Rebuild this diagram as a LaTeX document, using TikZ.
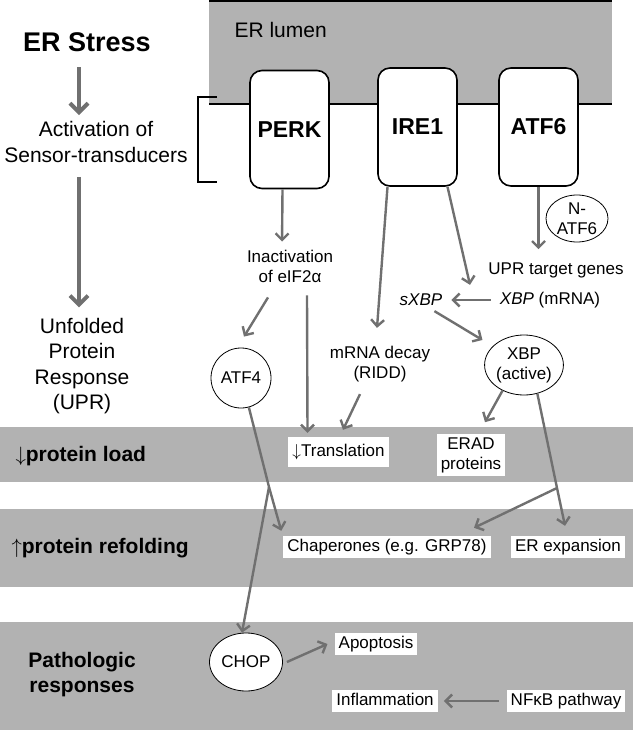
\documentclass[tikz,border=0pt]{standalone}
\usepackage{fontspec}
\setmainfont{Liberation Sans}
\usepackage{tikz}
\usetikzlibrary{arrows.meta,positioning,shapes.geometric}
\definecolor{bandgray}{RGB}{178,178,178}
\definecolor{arrowgray}{RGB}{112,112,112}

\begin{document}
\begin{tikzpicture}[x=1pt,y=-1pt,
	sensor/.style={draw=black,line width=1.6pt,rounded corners=12pt,fill=white,minimum width=79pt,minimum height=118pt,font=\fontsize{23}{26}\selectfont\bfseries},
	txt/.style={font=\fontsize{17}{20}\selectfont,align=center,inner sep=2pt},
	whitebox/.style={txt,fill=white,inner xsep=4pt,inner ysep=3pt},
	tag/.style={whitebox,text height=12.5pt,text depth=3.5pt},
	blob/.style={ellipse,draw=black,line width=0.8pt,txt,inner sep=0pt},
	side/.style={font=\fontsize{21}{25.5}\selectfont,align=center},
	bandlabel/.style={font=\fontsize{21}{25}\selectfont\bfseries,align=center},
	arr/.style={draw=arrowgray,line width=2.4pt,-{Straight Barb[length=6.5pt,width=13pt]}},
	bigarr/.style={draw=arrowgray,line width=4pt,-{Straight Barb[length=9pt,width=18pt]}}]
	\useasboundingbox (0,0) rectangle (633,730);
	% bands and membrane
	\fill[bandgray] (0,427) rectangle (633,482);
	\fill[bandgray] (0,509) rectangle (633,587);
	\fill[bandgray] (0,622) rectangle (633,730);
	\fill[bandgray] (209,0) rectangle (612,104);
	\draw[line width=2pt] (209,1) -- (612,1);
	\draw[line width=2pt] (209,104) -- (612,104);
	\draw[line width=2pt] (217,97) -- (198,97) -- (198,182) -- (217,182);
	\node[side,anchor=west] (lumen) at (231,30) {ER lumen};

	% left column
	\node[font=\fontsize{27}{30}\selectfont\bfseries] (stress) at (87,42) {ER Stress};
	\node[side] (activ) at (96,142) {Activation of\\Sensor-transducers};
	\node[side] (upr) at (82,366) {Unfolded\\Protein\\Response\\(UPR)};
	\draw[bigarr, shorten <=12pt, shorten >=3pt] ([xshift=-8]stress.south) -- ([xshift=-17]activ.north);
	\draw[bigarr, shorten <=11pt, shorten >=7pt] ([xshift=-17]activ.south) -- ([xshift=-3]upr.north);

	% sensors
	\node[sensor] (perk) at (289.5,129.5) {PERK};
	\node[sensor] (ire1) at (417.5,127) {IRE1};
	\node[sensor] (atf6) at (538.5,127) {ATF6};

	% band labels
	\node[bandlabel,anchor=west] (load) at (12,456) {$\downarrow$protein load};
	\node[bandlabel,anchor=west] (refold) at (8,548) {$\uparrow$protein refolding};
	\node[bandlabel] (patho) at (82,675) {Pathologic\\responses};

	% downstream nodes
	\node[txt] (inact) at (290,266) {Inactivation\\of eIF2α};
	\node[blob,minimum width=60pt,minimum height=60pt] (atf4) at (241,378) {ATF4};
	\node[txt] (ridd) at (380,364) {mRNA decay\\(RIDD)};
	\node[txt] (sxbp) at (421,300) {\itshape sXBP};
	\node[txt] (xbpm) at (550,300) {\textit{XBP} (mRNA)};
	\node[txt] (target) at (556,270) {UPR target genes};
	\node[blob,minimum width=62pt,minimum height=47pt] (natf6) at (577,218.5) {N-\\ATF6};
	\node[blob,minimum width=76pt,minimum height=60pt] (xbpa) at (524,365) {XBP\\(active)};
	\node[whitebox,minimum height=30pt] (transl) at (338.5,452) {$\downarrow$Translation};
	\node[whitebox] (erad) at (471,455) {ERAD\\proteins};
	\node[tag] (chap) at (387,547) {Chaperones (e.g. GRP78)};
	\node[tag] (erexp) at (568,547) {ER expansion};
	\node[blob,fill=white,minimum width=73pt,minimum height=58pt] (chop) at (246,662) {CHOP};
	\node[tag] (apop) at (376,644) {Apoptosis};
	\node[tag] (infl) at (385,701) {Inflammation};
	\node[tag] (nfkb) at (566,701) {NFκB pathway};
	\coordinate (xsplit) at (557,488);
	\coordinate (asplit) at (269,487);

	% connectors
	\draw[arr, shorten >=6pt] ([xshift=-7]perk.south) -- ([xshift=-8]inact.north);
	\draw[arr] ([xshift=-22,yshift=-13]inact.south) -- ([xshift=3,yshift=11]atf4.north);
	\draw[arr] ([xshift=17,yshift=-11]inact.south) -- ([xshift=-31,yshift=4]transl.north);
	\draw[arr] ([xshift=-30]ire1.south) -- ([xshift=-3,yshift=16]ridd.north);
	\draw[arr] ([xshift=30]ire1.south) -- ([xshift=49,yshift=7]sxbp.north);
	\draw[arr] (atf6.south) -- ([xshift=-17.5,yshift=11]target.north);
	\draw[arr, shorten <=7pt, shorten >=7pt] (xbpm.west) -- (sxbp.east);
	\draw[arr, shorten >=12pt] ([xshift=-10,yshift=-3]sxbp.south east) -- (xbpa);
	\draw[arr] ([xshift=-20,yshift=-10]ridd.south) -- ([xshift=4.5,yshift=7]transl.north);
	\draw[arr] (xbpa.-130) -- ([xshift=14,yshift=12]erad.north);
	\draw[arr] (xbpa.-65) -- (xsplit) -- ([xshift=-3,yshift=10]erexp.north);
	\draw[arr] (xsplit) -- ([xshift=87,yshift=8]chap.north);
	\draw[arr] (atf4.-75) -- (asplit) -- ([xshift=-2,yshift=5]chap.north west);
	\draw[arr] (asplit) -- ([xshift=-4]chop.north);
	\draw[arr] ([xshift=4]chop.east) -- ([xshift=-7]apop.west);
	\draw[arr, shorten <=8pt, shorten >=6pt] (nfkb.west) -- (infl.east);
\end{tikzpicture}
\end{document}
